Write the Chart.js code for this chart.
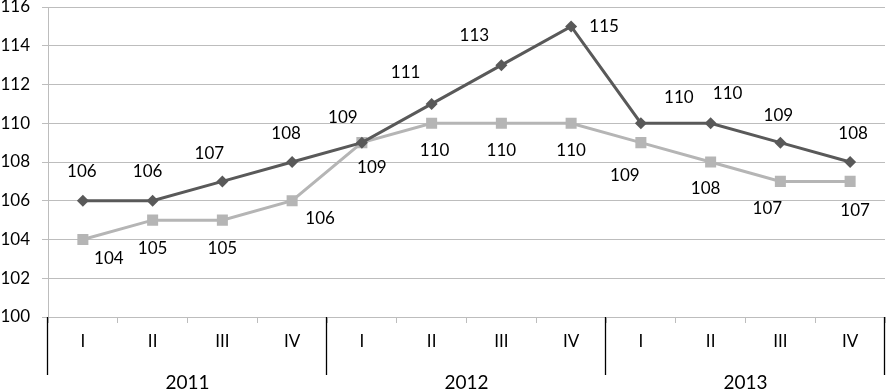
<!DOCTYPE html>
<html>
<head>
<meta charset="utf-8">
<script src="https://cdn.jsdelivr.net/npm/chart.js@4.4.0/dist/chart.umd.min.js"></script>
<style>
html,body{margin:0;padding:0;background:#fff;}
#wrap{width:886px;height:391px;position:relative;}
</style>
</head>
<body>
<div id="wrap"><canvas id="c" width="886" height="391"></canvas></div>
<script>
const years = ['2011', '2012', '2013'];
const quarters = ['I', 'II', 'III', 'IV'];
const seriesA = [106, 106, 107, 108, 109, 111, 113, 115, 110, 110, 109, 108];
const seriesB = [104, 105, 105, 106, 109, 110, 110, 110, 109, 108, 107, 107];
const yTicks = [100, 102, 104, 106, 108, 110, 112, 114, 116];

// label placement nudges (pixels, relative to point)
const labelNudgeA = [[-1,-29],[-5,-29],[-13,-28],[-6,-28],[-19,-25],[-26,-31],[-27,-30],[33,0],[38,-26],[17,-30],[-2,-27],[3,-28]];
const labelNudgeB = [[26,19],[0,28],[0,28],[28,18],[10,25],[3,27],[0,27],[0,27],[-16,33],[-5,27],[-13,27],[5,29]];

const labels = [];
years.forEach(y => quarters.forEach(q => labels.push(q)));

const FONT = 'Lato, "Open Sans", sans-serif';

const deco = {
  id: 'deco',
  afterDraw(chart) {
    const ctx = chart.ctx;
    const xs = chart.scales.x;
    const area = chart.chartArea;
    const half = (xs.getPixelForValue(1) - xs.getPixelForValue(0)) / 2;
    ctx.save();
    // group separators
    ctx.strokeStyle = '#000';
    ctx.lineWidth = 1.3;
    for (let g = 0; g <= years.length; g++) {
      const idx = Math.min(g * 4, labels.length - 1);
      let x = g * 4 < labels.length ? xs.getPixelForValue(idx) - half : xs.getPixelForValue(idx) + half;
      x = Math.round(x) - 0.5;
      if (x > 885) x = 884.5;
      ctx.beginPath();
      ctx.moveTo(x, area.bottom);
      ctx.lineTo(x, 375);
      ctx.stroke();
    }
    // year labels
    ctx.fillStyle = '#000';
    ctx.font = '19px ' + FONT;
    ctx.textAlign = 'center';
    ctx.textBaseline = 'middle';
    years.forEach((y, g) => {
      const x = (xs.getPixelForValue(g * 4) + xs.getPixelForValue(g * 4 + 3)) / 2;
      ctx.fillText(y, x, 383);
    });
    // data labels
    ctx.font = '17px ' + FONT;
    const sets = [[seriesA, labelNudgeA], [seriesB, labelNudgeB]];
    sets.forEach((s, di) => {
      const meta = chart.getDatasetMeta(di);
      meta.data.forEach((pt, i) => {
        ctx.fillText(String(s[0][i]), pt.x + s[1][i][0], pt.y + s[1][i][1]);
      });
    });
    ctx.restore();
  }
};

new Chart(document.getElementById('c'), {
  type: 'line',
  data: {
    labels: labels,
    datasets: [
      {
        data: seriesA,
        borderColor: '#595959',
        backgroundColor: '#595959',
        borderWidth: 3,
        pointStyle: 'rectRot',
        pointRadius: 6,
        pointBorderWidth: 0,
        tension: 0
      },
      {
        data: seriesB,
        borderColor: '#b5b5b5',
        backgroundColor: '#b5b5b5',
        borderWidth: 3,
        pointStyle: 'rect',
        pointRadius: 7.8,
        pointBorderWidth: 0,
        tension: 0
      }
    ]
  },
  options: {
    responsive: false,
    animation: false,
    events: [],
    layout: { autoPadding: false, padding: { top: 7, right: 1, left: 0, bottom: 0 } },
    plugins: { legend: { display: false }, tooltip: { enabled: false } },
    scales: {
      x: {
        type: 'category',
        offset: true,
        grid: { display: true, offset: true, drawOnChartArea: false, tickLength: 6, color: '#bdbdbd', lineWidth: 1 },
        border: { display: true, color: '#bdbdbd' },
        ticks: { color: '#000', font: { size: 17, family: FONT }, padding: 8, maxRotation: 0, autoSkip: false },
        afterFit(s) { s.height = 74; s.paddingLeft = 0; s.paddingRight = 0; }
      },
      y: {
        min: 100, max: 116,
        afterBuildTicks(s) { s.ticks = yTicks.map(v => ({ value: v })); },
        grid: { color: '#bdbdbd', lineWidth: 1, tickLength: 6 },
        border: { display: true, color: '#bdbdbd' },
        ticks: { color: '#000', font: { size: 17, family: FONT }, padding: 12 },
        afterFit(s) { s.width = 48; s.paddingTop = 0; s.paddingBottom = 0; }
      }
    }
  },
  plugins: [deco]
});
</script>
</body>
</html>
